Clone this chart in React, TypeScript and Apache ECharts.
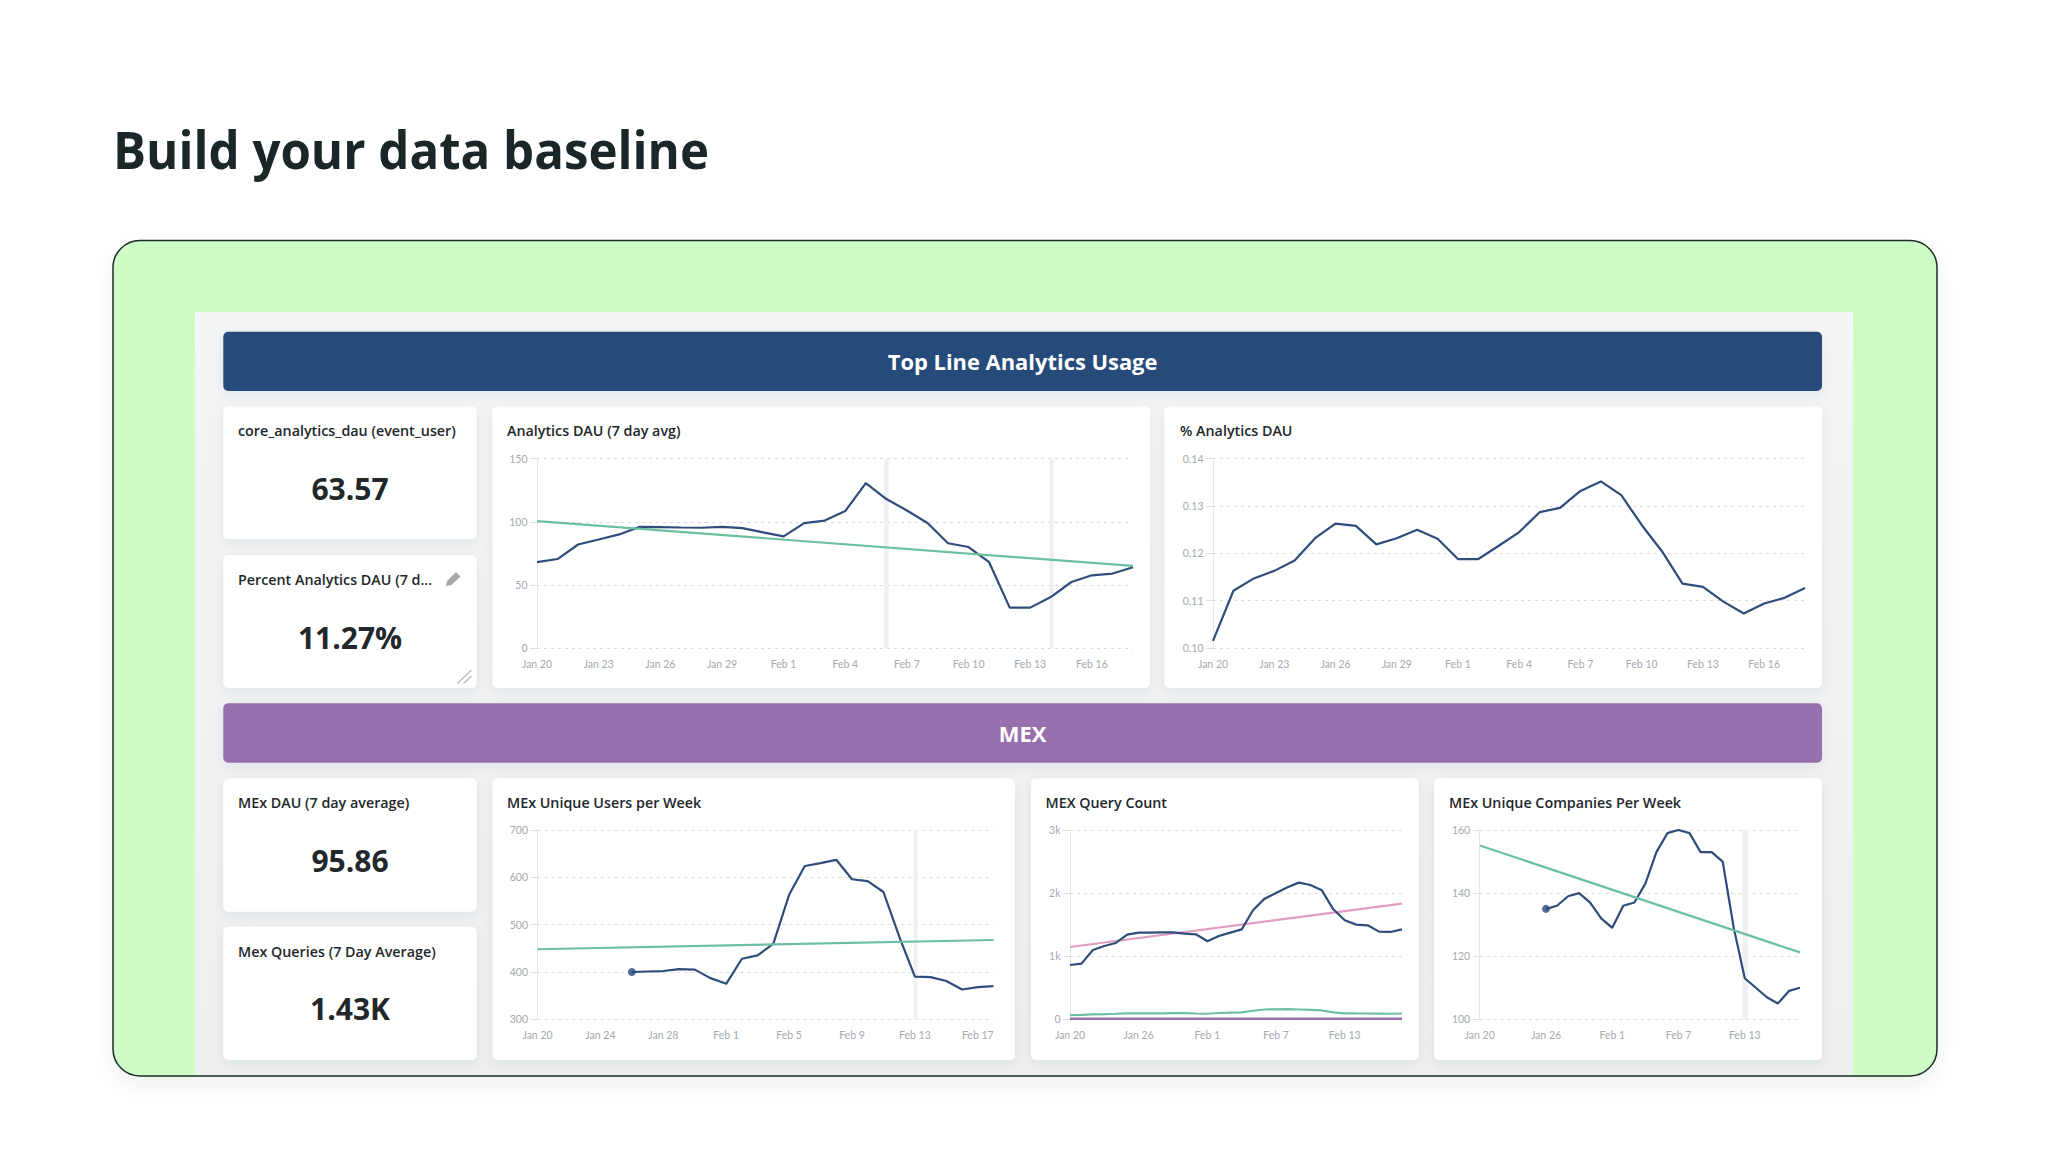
import React, { useEffect, useRef } from "react";
import * as echarts from "echarts";

const days = ["Jan 20","Jan 21","Jan 22","Jan 23","Jan 24","Jan 25","Jan 26","Jan 27","Jan 28","Jan 29","Jan 30","Jan 31","Feb 1","Feb 2","Feb 3","Feb 4","Feb 5","Feb 6","Feb 7","Feb 8","Feb 9","Feb 10","Feb 11","Feb 12","Feb 13","Feb 14","Feb 15","Feb 16","Feb 17","Feb 18"];

const dauValues = [68,70.5,82,86,90,96,95.8,95.5,95.3,96,95,91.6,88.5,99,101,108.5,130.7,118,109,99,83,80,68,32,32,40.4,52.3,57.6,59,64];
const dauTrend = [100.6,65];
const dauBands = ["Feb 6","Feb 14"];

const pctValues = [0.1015,0.1121,0.1147,0.1163,0.1185,0.1232,0.1263,0.1258,0.1219,0.1232,0.125,0.1231,0.1188,0.1188,0.1216,0.1245,0.1287,0.1296,0.1332,0.1352,0.1323,0.126,0.1204,0.1136,0.1129,0.1098,0.1073,0.1094,0.1106,0.1127];

const usersValues = [null,null,null,null,null,null,400,401,402,406,405,387,375,428,435,460,563,624,630,637,596,592,569,475,390,389,381,363,368,370];
const usersTrend = [448,467.6];
const usersBands = ["Feb 13"];

const queryValues = [861,882,1099,1162,1210,1342,1373,1373,1379,1379,1358,1347,1236,1321,1373,1426,1733,1912,2002,2092,2166,2129,2044,1743,1569,1500,1490,1389,1384,1426];
const queryTrend = [1146,1833];
const querySecond = [65,70,78,82,88,95,95,95,95,97,97,92,88,100,105,110,135,155,158,160,155,150,140,110,95,93,92,90,88,92];
const queryThird = [9,9,9,9,9,9,9,9,9,9,9,9,8,8,8,8,8,8,8,9,9,9,9,9,8,8,8,8,8,8];

const companyValues = [null,null,null,null,null,null,135,136,139,140,137,132,129,136,137,143,153,159,160,159,153,153,150,129,113,110,107,105,109,110];
const companyTrend = [155.1,121.2];
const companyBands = ["Feb 13"];

const pageTitle = "Build your data baseline";
const bannerTitles = ["Top Line Analytics Usage", "MEX"];
const kpiTitles = ["core_analytics_dau (event_user)", "Percent Analytics DAU (7 d...", "MEx DAU (7 day average)", "Mex Queries (7 Day Average)"];
const kpiValues = ["63.57", "11.27%", "95.86", "1.43K"];
const chartTitles = ["Analytics DAU (7 day avg)", "% Analytics DAU", "MEx Unique Users per Week", "MEX Query Count", "MEx Unique Companies Per Week"];

const NAVY = "#2f4d7b";
const TEAL = "#6cc0a0";
const PINK = "#e29dc2";
const PURPLE = "#976fae";
const FONT = '"Open Sans", "Noto Sans", sans-serif';
const AXIS_FONT = 'Lato, "Open Sans", sans-serif';
const INK = "#22272b";
const LW = 2.2;

const CARD_SHADOW = { shadowBlur: 12, shadowColor: "rgba(40,50,70,0.07)", shadowOffsetY: 4 };

function text(x: number, y: number, t: string, size: number, weight: number | string, fill: string, align = "left", family = FONT) {
  return {
    type: "text", z: 3, silent: true,
    style: { x, y, text: t, fontSize: size, fontWeight: weight, fontFamily: family, fill, textAlign: align, textVerticalAlign: "middle", align, verticalAlign: "middle" },
  };
}
function card(x0: number, y0: number, x1: number, y1: number, fill = "#ffffff", r = 5) {
  return { type: "rect", z: -5, silent: true, shape: { x: x0, y: y0, width: x1 - x0, height: y1 - y0, r }, style: { fill, ...CARD_SHADOW } };
}

const grids = [
  { left: 537, top: 458.7, width: 596, height: 189.3 },
  { left: 1213, top: 458.7, width: 592, height: 189.3 },
  { left: 537.5, top: 830, width: 456, height: 189.3 },
  { left: 1070, top: 830, width: 332, height: 189.3 },
  { left: 1479.7, top: 830, width: 320.3, height: 189.3 },
];

function xAxis(i: number, interval: number) {
  return {
    type: "category", gridIndex: i, data: days, boundaryGap: false,
    axisLine: { show: false }, axisTick: { show: false }, splitLine: { show: false },
    axisLabel: { interval, margin: 10.5, fontSize: 10.5, color: "#a6aaae", fontFamily: AXIS_FONT },
  };
}
function yAxis(i: number, min: number, max: number, interval: number, formatter: (v: number) => string) {
  return {
    type: "value", gridIndex: i, min, max, interval,
    axisLine: { show: true, lineStyle: { color: "#e6e8ea", width: 1 } },
    axisTick: { show: true, length: 7, lineStyle: { color: "#dcdee1" } },
    splitLine: { show: true, lineStyle: { color: "#d9dbde", type: [3, 4], width: 1 } },
    axisLabel: { margin: 9.5, fontSize: 10.5, color: "#a6aaae", fontFamily: AXIS_FONT, formatter },
  };
}
function line(i: number, data: any[], color = NAVY, width = LW, extra: any = {}) {
  return {
    type: "line", xAxisIndex: i, yAxisIndex: i, data, symbol: "none", smooth: false, z: 3,
    lineStyle: { color, width }, itemStyle: { color }, silent: true, ...extra,
  };
}
function trend(i: number, vals: number[], color = TEAL) {
  return line(i, [[days[0], vals[0]], [days[days.length - 1], vals[1]]], color, LW);
}
function bands(names: string[], width = 4.5) {
  return {
    markLine: {
      z: 1, silent: true, symbol: "none", animation: false, label: { show: false },
      lineStyle: { color: "#eff0f2", width, type: "solid" },
      data: names.map((n) => ({ xAxis: n })),
    },
  };
}
function startDot(i: number, values: (number | null)[]) {
  const k = values.findIndex((v) => v != null);
  return {
    type: "scatter", xAxisIndex: i, yAxisIndex: i, symbol: "circle", symbolSize: 8, z: 4, silent: true,
    itemStyle: { color: "#24497a" }, data: [[days[k], values[k]]],
  };
}

function buildOption() {
  const heading: any = text(113, 148.5, pageTitle, 52.5, 700, "#1a2628");
  heading.scaleX = 0.938;
  heading.originX = 113;
  heading.originY = 148.5;

  const graphic = [
    // green panel
    { type: "rect", z: -10, silent: true, shape: { x: 113, y: 240.5, width: 1824, height: 835.5, r: 27 },
      style: { fill: "#cdfdc4", shadowBlur: 22, shadowColor: "rgba(30,50,40,0.07)", shadowOffsetY: 8 } },
    // dashboard surface
    { type: "rect", z: -9, silent: true, shape: { x: 195, y: 312, width: 1658, height: 763.5 },
      style: { fill: { type: "linear", x: 0, y: 0, x2: 0, y2: 1, colorStops: [{ offset: 0, color: "#f4f5f7" }, { offset: 1, color: "#edeff1" }] } } },
    { type: "rect", z: -8, silent: true, shape: { x: 113, y: 240.5, width: 1824, height: 835.5, r: 27 },
      style: { fill: "none", stroke: "#1d2b2b", lineWidth: 1.5 } },
    // banners
    card(223.3, 331.7, 1822, 391, "#274b7a", 5),
    card(223.3, 703.3, 1822, 762.7, PURPLE, 5),
    // KPI cards
    card(223.3, 406.5, 476.7, 539),
    card(223.3, 555, 476.7, 688),
    card(223.3, 778.3, 476.7, 911.7),
    card(223.3, 926.7, 476.7, 1060),
    // chart cards
    card(492.5, 406.5, 1150, 688),
    card(1164.5, 406.5, 1822, 688),
    card(492.5, 778.3, 1015, 1060),
    card(1031, 778.3, 1418.7, 1060),
    card(1434, 778.3, 1822, 1060),
    // heading
    heading,
    text(1022.6, 361, bannerTitles[0], 21.9, 700, "#ffffff", "center"),
    text(1022.6, 733, bannerTitles[1], 21.9, 700, "#ffffff", "center"),
    // KPI text
    text(238, 430.5, kpiTitles[0], 14.3, 600, INK),
    text(350, 488, kpiValues[0], 30, 700, INK, "center"),
    text(238, 579.3, kpiTitles[1], 14.3, 600, INK),
    text(350, 637.2, kpiValues[1], 30, 700, INK, "center"),
    text(238, 802.7, kpiTitles[2], 14.3, 600, INK),
    text(350, 860, kpiValues[2], 30, 700, INK, "center"),
    text(238, 951.7, kpiTitles[3], 14.3, 600, INK),
    text(350, 1008, kpiValues[3], 30, 700, INK, "center"),
    // chart titles
    text(507, 430.5, chartTitles[0], 14.3, 600, INK),
    text(1180, 430.5, chartTitles[1], 14.3, 600, INK),
    text(507, 802.7, chartTitles[2], 14.3, 600, INK),
    text(1045.5, 802.7, chartTitles[3], 14.3, 600, INK),
    text(1449, 802.7, chartTitles[4], 14.3, 600, INK),
    // pencil
    { type: "polygon", z: 3, silent: true, shape: { points: [[446, 586], [447, 581], [456, 572], [460.5, 576.5], [451.5, 585]] }, style: { fill: "#a6a8aa" } },
    // resize handle
    { type: "line", z: 3, silent: true, shape: { x1: 457.5, y1: 683.5, x2: 471.5, y2: 670 }, style: { stroke: "#b5b7b9", lineWidth: 1.2 } },
    { type: "line", z: 3, silent: true, shape: { x1: 463.5, y1: 683.5, x2: 471.5, y2: 676 }, style: { stroke: "#b5b7b9", lineWidth: 1.2 } },
  ];

  return {
    animation: false,
    backgroundColor: "#ffffff",
    graphic,
    grid: grids.map((g) => ({ ...g, containLabel: false })),
    xAxis: [xAxis(0, 2), xAxis(1, 2), xAxis(2, 3), xAxis(3, 5), xAxis(4, 5)],
    yAxis: [
      yAxis(0, 0, 150, 50, (v) => String(v)),
      yAxis(1, 0.1, 0.14, 0.01, (v) => v.toFixed(2)),
      yAxis(2, 300, 700, 100, (v) => String(v)),
      yAxis(3, 0, 3000, 1000, (v) => (v === 0 ? "0" : v / 1000 + "k")),
      yAxis(4, 100, 160, 20, (v) => String(v)),
    ],
    series: [
      line(0, dauValues, NAVY, LW, bands(dauBands)),
      trend(0, dauTrend),
      line(1, pctValues),
      line(2, usersValues, NAVY, LW, bands(usersBands)),
      trend(2, usersTrend),
      startDot(2, usersValues),
      line(3, queryThird, PURPLE, 2.6),
      line(3, querySecond, TEAL, LW),
      trend(3, queryTrend, PINK),
      line(3, queryValues),
      line(4, companyValues, NAVY, LW, bands(companyBands, 5.5)),
      trend(4, companyTrend),
      startDot(4, companyValues),
    ],
  };
}

export default function App() {
  const ref = useRef<HTMLDivElement>(null);
  useEffect(() => {
    const chart = echarts.init(ref.current as HTMLDivElement, undefined, { renderer: "svg" });
    chart.setOption(buildOption() as any);
    return () => chart.dispose();
  }, []);
  return <div ref={ref} style={{ position: "absolute", left: 0, top: 0, width: 2048, height: 1152 }} />;
}
